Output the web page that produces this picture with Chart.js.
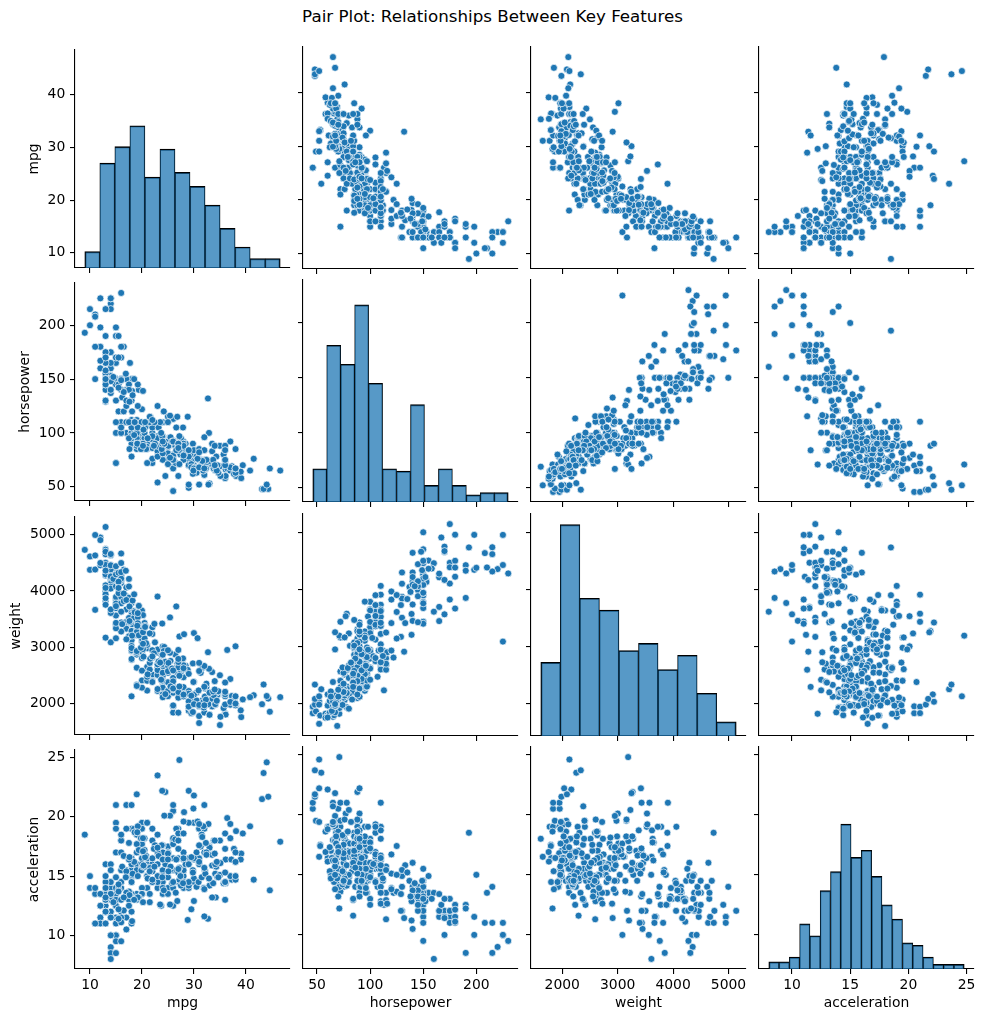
<!DOCTYPE html>
<html>
<head>
<meta charset="utf-8">
<title>Pair Plot</title>
<script src="https://cdn.jsdelivr.net/npm/chart.js@4.4.1/dist/chart.umd.min.js"></script>
<style>
  html, body { margin: 0; padding: 0; background: #fff; }
  body { width: 985px; height: 1023px; position: relative; overflow: hidden; font-family: "DejaVu Sans", sans-serif; }
  #title { position: absolute; left: 0; top: 6px; width: 985px; text-align: center; font-size: 16.7px; line-height: 20px; color: #000; }
  canvas { position: absolute; }
</style>
</head>
<body>
<div id="title">Pair Plot: Relationships Between Key Features</div>
<script>
// one entry per car, same order in every array
const mpg = [
  18,15,18,16,17,15,14,14,14,15,
  15,14,15,14,24,22,18,21,27,26,
  25,24,25,26,21,10,10,11,9,27,
  28,25,19,16,17,19,18,14,14,14,
  14,12,13,13,18,22,19,18,23,28,
  30,30,31,35,27,26,24,25,23,20,
  21,13,14,15,14,17,11,13,12,13,
  19,15,13,13,14,18,22,21,26,22,
  28,23,28,27,13,14,13,14,15,12,
  13,13,14,13,12,13,18,16,18,18,
  23,26,11,12,13,12,18,20,21,22,
  18,19,21,26,15,16,29,24,20,19,
  15,24,20,11,20,19,15,31,26,32,
  25,16,16,18,16,13,14,14,14,29,
  26,26,31,32,28,24,26,24,26,31,
  19,18,15,15,16,15,16,14,17,16,
  15,18,21,20,13,29,23,20,23,24,
  25,24,18,29,19,23,23,22,25,33,
  28,25,25,26,27,17.5,16,15.5,14.5,22,
  22,24,22.5,29,24.5,29,33,20,18,18.5,
  17.5,29.5,32,28,26.5,20,13,19,19,16.5,
  16.5,13,13,13,31.5,30,36,25.5,33.5,17.5,
  17,15.5,15,17.5,20.5,19,18.5,16,15.5,15.5,
  16,29,24.5,26,25.5,30.5,33.5,30,30.5,22,
  21.5,21.5,43.1,36.1,32.8,39.4,36.1,19.9,19.4,20.2,
  19.2,20.5,20.2,25.1,20.5,19.4,20.6,20.8,18.6,18.1,
  19.2,17.7,18.1,17.5,30,27.5,27.2,30.9,21.1,23.2,
  23.8,23.9,20.3,17,21.6,16.2,31.5,29.5,21.5,19.8,
  22.3,20.2,20.6,17,17.6,16.5,18.2,16.9,15.5,19.2,
  18.5,31.9,34.1,35.7,27.4,25.4,23,27.2,23.9,34.2,
  34.5,31.8,37.3,28.4,28.8,26.8,33.5,41.5,38.1,32.1,
  37.2,28,26.4,24.3,19.1,34.3,29.8,31.3,37,32.2,
  46.6,27.9,40.8,44.3,43.4,36.4,30,44.6,33.8,29.8,
  32.7,23.7,35,32.4,27.2,26.6,25.8,23.5,30,39.1,
  39,35.1,32.3,37,37.7,34.1,34.7,34.4,29.9,33,
  33.7,32.4,32.9,31.6,28.1,30.7,25.4,24.2,22.4,26.6,
  20.2,17.6,28,27,34,31,29,27,24,
  36,37,31,38,36,36,36,34,38,32,38,
  25,38,26,22,32,36,27,27,44,32,28,31
];
const horsepower = [
  130,165,150,150,140,198,220,215,225,190,
  170,160,150,225,95,95,97,85,88,46,
  87,90,95,113,90,215,200,210,193,88,
  90,95,100,105,100,88,100,165,175,153,
  150,180,170,175,110,72,100,88,86,90,
  70,76,65,69,60,70,95,80,54,90,
  86,165,175,150,153,150,208,155,160,190,
  97,150,130,140,150,112,76,87,69,86,
  92,97,80,88,175,150,145,137,150,198,
  150,158,150,215,225,175,105,100,100,88,
  95,46,150,167,170,180,100,88,72,94,
  90,85,107,90,145,230,49,75,91,112,
  150,110,122,180,95,100,100,67,80,65,
  75,100,110,105,140,150,150,140,150,83,
  67,78,52,61,75,75,75,97,93,67,
  95,105,72,72,170,145,150,148,110,105,
  110,95,110,110,129,75,83,100,78,96,
  71,97,97,70,90,95,88,98,115,53,
  86,81,92,79,83,140,150,120,152,100,
  105,81,90,52,60,70,53,100,78,110,
  95,71,70,75,72,102,150,88,108,120,
  180,145,130,150,68,80,58,96,70,145,
  110,145,130,110,105,100,98,180,170,190,
  149,78,88,75,89,63,83,67,78,97,
  110,110,48,66,52,70,60,110,140,139,
  105,95,85,88,100,90,105,85,110,120,
  145,165,139,140,68,95,97,75,95,105,
  85,97,103,125,115,133,71,68,115,85,
  88,90,110,130,129,138,135,155,142,125,
  150,71,65,80,80,77,125,71,90,70,
  70,65,69,90,115,115,90,76,60,70,
  65,90,88,90,90,78,90,75,92,75,
  65,105,65,48,48,67,67,67,67,62,
  132,100,88,72,84,84,92,110,84,58,
  64,60,67,65,62,68,63,65,65,74,
  75,75,100,74,80,76,116,120,110,105,
  88,85,88,88,88,85,84,90,92,
  74,68,68,63,70,88,75,70,67,67,67,
  110,85,92,112,96,84,90,86,52,84,79,82
];
const weight = [
  3504,3693,3436,3433,3449,4341,4354,4312,4425,3850,
  3563,3609,3761,3086,2372,2833,2774,2587,2130,1835,
  2672,2430,2375,2234,2648,4615,4376,4382,4732,2130,
  2264,2228,2634,3439,3329,3302,3288,4209,4464,4154,
  4096,4955,4746,5140,2962,2408,3282,3139,2220,2123,
  2074,2065,1773,1613,1834,1955,2278,2126,2254,2408,
  2226,4274,4385,4135,4129,3672,4633,4502,4456,4422,
  2330,3892,4098,4294,4077,2933,2511,2979,2189,2395,
  2288,2506,2164,2100,4100,3672,3988,4042,3777,4952,
  4464,4363,4237,4735,4951,3821,3121,3278,2945,3021,
  2904,1950,4997,4906,4654,4499,2789,2279,2401,2379,
  2124,2310,2472,2265,4082,4278,1867,2158,2582,2868,
  3399,2660,2807,3664,3102,2901,3336,1950,2451,1836,
  2542,3781,3632,3613,4141,4699,4457,4638,4257,2219,
  1963,2300,1649,2003,2125,2108,2246,2489,2391,2000,
  3264,3459,3432,3158,4668,4440,4498,4657,3907,3897,
  3730,3785,3039,3221,3169,2171,2639,2914,2592,2702,
  2223,2545,2984,1937,3211,2694,2957,2945,2671,1795,
  2464,2220,2572,2255,2202,4215,4190,3962,4215,3233,
  3353,3012,3085,2035,2164,1937,1795,3651,3574,3645,
  3193,1825,1990,2155,2565,3150,3940,3270,2930,3820,
  4380,4055,3870,3755,2045,2155,1825,2300,1945,3880,
  4060,4140,4295,3520,3425,3630,3525,4220,4165,4325,
  4335,1940,2740,2265,2755,2051,2075,1985,2190,2815,
  2600,2720,1985,1800,1985,2070,1800,3365,3735,3570,
  3535,3155,2965,2720,3430,3210,3380,3070,3620,3410,
  3425,3445,3205,4080,2155,2560,2300,2230,2515,2745,
  2855,2405,2830,3140,2795,3410,1990,2135,3245,2990,
  2890,3265,3360,3840,3725,3955,3830,4360,4054,3605,
  3940,1925,1975,1915,2670,3530,3900,3190,3420,2200,
  2150,2020,2130,2670,2595,2700,2556,2144,1968,2120,
  2019,2678,2870,3003,3381,2188,2711,2542,2434,2265,
  2110,2800,2110,2085,2335,2950,3250,1850,2145,1845,
  2910,2420,2500,2290,2490,2635,2620,2725,2385,1755,
  1875,1760,2065,1975,2050,1985,2215,2045,2380,2190,
  2210,2350,2615,2635,3230,3160,2900,2930,3415,3725,
  3060,3465,2605,2640,2395,2575,2525,2735,2865,
  1980,2025,1970,2125,2125,2160,2205,2245,1965,1965,1995,
  2945,3015,2585,2835,2665,2370,2950,2790,2130,2295,2625,2720
];
const acceleration = [
  12,11.5,11,12,10.5,10,9,8.5,10,8.5,
  10,8,9.5,10,15,15.5,15.5,16,14.5,20.5,
  17.5,14.5,17.5,12.5,15,14,15,13.5,18.5,14.5,
  15.5,14,13,15.5,15.5,15.5,15.5,12,11.5,13.5,
  13,11.5,12,12,13.5,19,15,14.5,14,14,
  19.5,14.5,19,18,19,20.5,15.5,17,23.5,19.5,
  16.5,12,12,13.5,13,11.5,11,13.5,13.5,12.5,
  13.5,12.5,14,16,14,14.5,18,19.5,18,16,
  17,14.5,15,16.5,13,11.5,13,14.5,12.5,11.5,
  12,13,14.5,11,11,11,16.5,18,16,16.5,
  16,21,14,12.5,13,12.5,15,19,19.5,16.5,
  13.5,18.5,14,15.5,13,9.5,19.5,15.5,14,15.5,
  11,14,13.5,11,16.5,16,17,19,16.5,21,
  17,17,18,16.5,14,14.5,13.5,16,15.5,16.5,
  15.5,14.5,16.5,19,14.5,15.5,14,15,15.5,16,
  16,16,21,19.5,11.5,14,14.5,13.5,21,18.5,
  19,19,15,13.5,12,16,17,16,18.5,13.5,
  16.5,17,14.5,14,17,15,17,14.5,13.5,17.5,
  15.5,16.9,14.9,17.7,15.3,13,13,13.9,12.8,15.4,
  14.5,17.6,17.6,22.2,22.1,14.2,17.4,17.7,21,16.2,
  17.8,12.2,17,16.4,13.6,15.7,13.2,21.9,15.5,16.7,
  12.1,12,15,14,18.5,14.8,18.6,15.5,16.8,12.5,
  19,13.7,14.9,16.4,16.9,17.7,19,11.1,11.4,12.2,
  14.5,14.5,16,18.2,15.8,17,15.9,16.4,14.1,14.5,
  12.8,13.5,21.5,14.4,19.4,18.6,16.4,15.5,13.2,12.8,
  19.2,18.2,15.8,15.4,17.2,17.2,15.8,16.7,18.7,15.1,
  13.2,13.4,11.2,13.7,16.5,14.2,14.7,14.5,14.8,16.7,
  17.6,14.9,15.9,13.6,15.7,15.8,14.9,16.6,15.4,18.2,
  17.3,18.2,16.6,15.4,13.4,13.2,15.2,14.9,14.3,15,
  13,14,15.2,14.4,15,20.1,17.4,24.8,22.2,13.2,
  14.9,19.2,14.7,16,11.3,12.9,13.2,14.7,18.8,15.5,
  16.4,16.5,18.1,20.1,18.7,15.8,15.5,17.5,15,15.2,
  17.9,14.4,19.2,21.7,23.7,19.9,21.8,13.8,18,15.3,
  11.4,12.5,15.1,17,15.7,16.4,14.4,12.6,12.9,16.9,
  16.4,16.1,17.8,19.4,17.3,16,14.9,16.2,20.7,14.2,
  14.4,16.8,14.8,18.3,20.4,19.6,12.6,13.8,15.8,19,
  17.1,16.6,19.6,18.6,18,16.2,16,18,16.4,
  15.3,18.2,17.6,14.7,17.3,14.5,14.5,16.9,15,15.7,16.2,
  16.4,17,14.5,14.7,13.9,13,17.3,15.6,24.6,11.6,18.6,19.4
];

// tick labels
const mpgTicks = [10, 20, 30, 40];
const horsepowerTicks = [50, 100, 150, 200];
const weightTicks = [2000, 3000, 4000, 5000];
const accelerationTicks = [10, 15, 20, 25];

// histogram bar heights (counts per bin) on the diagonal
const mpgCounts = [7, 45, 52, 61, 39, 51, 41, 35, 27, 17, 9, 4, 4];
const horsepowerCounts = [14, 66, 58, 83, 50, 14, 13, 41, 7, 14, 7, 3, 4, 4];
const weightCounts = [31, 89, 58, 53, 36, 39, 28, 34, 18, 6];
const accelerationCounts = [3, 3, 5, 19, 14, 33, 41, 61, 47, 50, 39, 27, 21, 11, 10, 5, 2, 2, 2];

const names = ['mpg', 'horsepower', 'weight', 'acceleration'];
const columns = [mpg, horsepower, weight, acceleration];
const tickSets = [mpgTicks, horsepowerTicks, weightTicks, accelerationTicks];
const countSets = [mpgCounts, horsepowerCounts, weightCounts, accelerationCounts];

console.log('rows', columns.map(a => a.length));

// layout of the 4x4 grid
const colLeft = [75, 303, 531, 759];
const rowTop = [47, 280, 514, 747];
const panelW = 215, panelH = 222;
const padTop = 10, padRight = 12;
const yTitlePad = [26, 17, 8, 26];
const PAGE_H = 1023;

Chart.defaults.font.family = '"DejaVu Sans", sans-serif';
Chart.defaults.color = '#000';

const BLUE = '#1f77b4';
const histMax = Math.max(...countSets.flat()) * 1.05;

function dataRange(values) {
    const lo = Math.min(...values), hi = Math.max(...values);
    return [lo, hi];
}

function axisLimits(values) {
    const [lo, hi] = dataRange(values);
    const m = (hi - lo) * 0.05;
    return [lo - m, hi + m];
}

function axis(k, horizontal, showLabels, size, titlePad) {
    const [lo, hi] = axisLimits(columns[k]);
    return {
        type: 'linear',
        position: horizontal ? 'bottom' : 'left',
        min: lo,
        max: hi,
        offset: false,
        beginAtZero: false,
        afterBuildTicks: s => { s.ticks = tickSets[k].map(v => ({ value: v })); },
        afterFit: s => { if (horizontal) s.height = size; else s.width = size; },
        grid: { drawOnChartArea: false, drawTicks: true, tickLength: 5, color: '#000', lineWidth: 1.1, offset: false },
        border: { display: true, color: '#000', width: 1.1 },
        ticks: {
            display: showLabels,
            autoSkip: false,
            maxRotation: 0,
            padding: horizontal ? 3.5 : 4.7,
            color: '#000',
            font: { size: 13.9 },
            callback: v => String(v)
        },
        title: {
            display: showLabels,
            text: names[k],
            color: '#000',
            font: { size: 13.9 },
            padding: horizontal ? { top: 0, bottom: 11.2 } : { top: titlePad, bottom: 0 }
        }
    };
}

function makePanel(r, c) {
    const leftW = c === 0 ? colLeft[0] : 12;
    const bottomH = r === 3 ? PAGE_H - (rowTop[3] + panelH) : 12;
    const w = leftW + panelW + padRight;
    const h = padTop + panelH + bottomH;

    const canvas = document.createElement('canvas');
    canvas.width = w;
    canvas.height = h;
    canvas.style.left = (colLeft[c] - leftW) + 'px';
    canvas.style.top = (rowTop[r] - padTop) + 'px';
    canvas.style.width = w + 'px';
    canvas.style.height = h + 'px';
    document.body.appendChild(canvas);

    const scales = {
        x: axis(c, true, r === 3, bottomH),
        y: axis(r, false, c === 0, leftW, yTitlePad[r])
    };
    const common = {
        responsive: false,
        animation: false,
        events: [],
        layout: { padding: { top: padTop, right: padRight, left: 0, bottom: 0 } },
        plugins: { legend: { display: false }, tooltip: { enabled: false } }
    };

    if (r === c) {
        // histogram on its own hidden count axis
        const counts = countSets[r];
        const [lo, hi] = dataRange(columns[r]);
        const step = (hi - lo) / counts.length;
        const bars = counts.map((n, i) => ({ x: lo + (i + 0.5) * step, y: n }));
        const last = counts.length - 1;
        scales.yh = { type: 'linear', display: false, min: 0, max: histMax };
        new Chart(canvas, {
            type: 'bar',
            data: {
                datasets: [{
                    data: bars,
                    xAxisID: 'x',
                    yAxisID: 'yh',
                    backgroundColor: 'rgba(31, 119, 180, 0.75)',
                    borderColor: '#000',
                    borderWidth: ctx => ({
                        top: 1.3,
                        left: ctx.dataIndex === 0 ? 1.3 : 0.7,
                        right: ctx.dataIndex === last ? 1.3 : 0.7,
                        bottom: 0
                    }),
                    borderSkipped: 'start',
                    barPercentage: 1,
                    categoryPercentage: 1
                }]
            },
            options: Object.assign({ scales }, common)
        });
    } else {
        const xs = columns[c], ys = columns[r];
        const points = xs.map((v, i) => ({ x: v, y: ys[i] }));
        new Chart(canvas, {
            type: 'scatter',
            data: {
                datasets: [{
                    data: points,
                    backgroundColor: BLUE,
                    borderColor: '#fff',
                    borderWidth: 0.7,
                    pointRadius: 3.5
                }]
            },
            options: Object.assign({ scales }, common)
        });
    }
}

for (let r = 0; r < 4; r++) {
    for (let c = 0; c < 4; c++) {
        makePanel(r, c);
    }
}
</script>
</body>
</html>
